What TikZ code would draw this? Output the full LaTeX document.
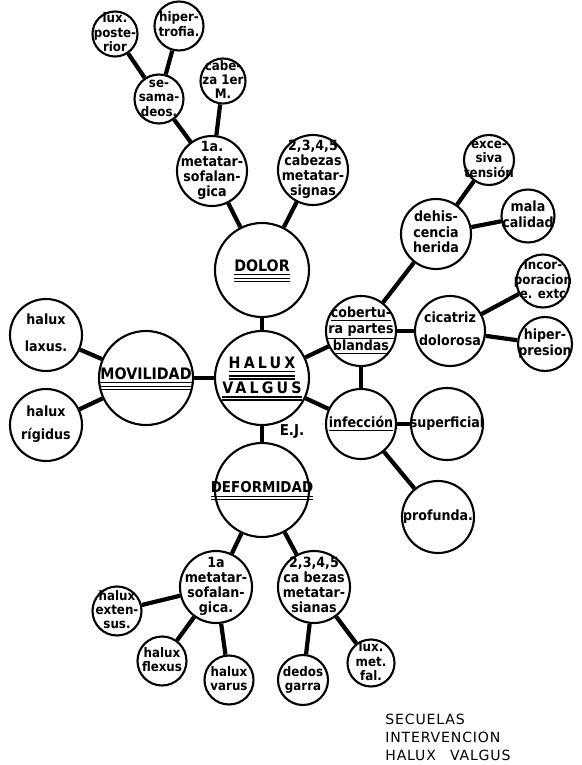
\documentclass[tikz,border=0pt]{standalone}
\usepackage{fontspec}
\setmainfont{DejaVu Sans Condensed}
\newfontfamily\spacedfont[LetterSpace=20]{DejaVu Sans Condensed}
\newfontfamily\titlefont[LetterSpace=6]{DejaVu Sans}
\usetikzlibrary{positioning}
% text set inside a circle without changing its size
\newcommand{\intext}[1]{\smash{\makebox[0pt]{\raisebox{-0.25em}{\begin{tabular}{@{}c@{}}#1\end{tabular}}}}}
% text with a double bar under it
\newcommand{\dbar}[1]{\vtop{\hbox{#1}\kern1.4pt\hrule height0.8pt\kern0.9pt\hrule height0.8pt}}

\begin{document}
\begin{tikzpicture}[node distance=1cm, on grid, every node/.style={align=center, inner sep=0pt}, bigc/.style={draw, circle, line width=1.2pt, minimum size=1.88cm, font=\bfseries\fontsize{9}{11}\selectfont}, midc/.style={draw, circle, line width=1.2pt, minimum size=1.4cm, font=\bfseries\fontsize{8}{8.6}\selectfont}, smallc/.style={draw, circle, line width=1.2pt, minimum size=0.98cm, font=\bfseries\fontsize{7.5}{8}\selectfont}, link/.style={line width=2.4pt}]
\useasboundingbox (0,0) rectangle (11.64,-15.3);
\node[bigc] (hv) at (5.24,-7.56) {\intext{\dbar{\underline{\spacedfont\bfseries HALUX}}\\[3pt]\dbar{\spacedfont\bfseries VALGUS}}};
\node[bigc, above=2.16cm of hv] (dolor) {\intext{\dbar{\underline{DOLOR}}}};
\node[bigc, left=2.32cm of hv] (movil) {\intext{\dbar{\underline{MOVILIDAD}}}};
\node[bigc, below=2.24cm of hv, font=\bfseries\fontsize{8.5}{10}\selectfont] (deform) {\intext{\dbar{DEFORMIDAD}}};
\node[midc, above right=0.94cm and 1.98cm of hv] (cobert) {\intext{\underline{cobertu-}\\\underline{ra partes}\\\underline{blandas}}};
\node[midc, below right=0.92cm and 1.98cm of hv] (infecc) {\intext{\underline{infección}}};
\node[below right=1.08cm and 0.6cm of hv, font=\bfseries\fontsize{8.5}{9}\selectfont] (ej) {E.J.};

\node[midc, above left=1.98cm and 1.0cm of dolor] (meta1a) {\intext{1a.\\metatar-\\sofalan-\\gica}};
\node[midc, above right=2.0cm and 1.02cm of dolor] (cabez) {\intext{2,3,4,5\\cabezas\\metatar-\\signas}};
\node[smallc, above left=1.44cm and 1.06cm of meta1a] (sesam) {\intext{se-\\sama-\\deos.}};
\node[smallc, above right=1.8cm and 0.22cm of meta1a, minimum size=0.9cm] (cab1er) {\intext{cabe-\\za 1er\\M.}};
\node[smallc, above left=1.3cm and 0.88cm of sesam, minimum size=0.9cm] (luxpost) {\intext{lux.\\poste-\\rior}};
\node[smallc, above right=1.46cm and 0.4cm of sesam] (hipert) {\intext{hiper-\\trofia.}};

\node[midc, above left=0.86cm and 2.0cm of movil, minimum size=1.44cm] (laxus) {\intext{halux\\[7pt]laxus.}};
\node[midc, below left=0.94cm and 2.0cm of movil, minimum size=1.44cm] (rigid) {\intext{halux\\[4pt]rígidus}};

\node[midc, above right=1.94cm and 1.5cm of cobert] (dehis) {\intext{dehis-\\cencia\\herida}};
\node[smallc, above right=1.48cm and 1.06cm of dehis, minimum size=1.0cm] (exces) {\intext{exce-\\siva\\tensión}};
\node[smallc, above right=0.36cm and 1.84cm of dehis, minimum size=1.06cm, font=\bfseries\fontsize{8}{9}\selectfont] (mala) {\intext{mala\\calidad}};
\node[midc, right=1.78cm of cobert] (cicat) {\intext{cicatriz\\[4pt]dolorosa}};
\node[smallc, above right=1.0cm and 1.86cm of cicat, minimum size=1.06cm] (incorp) {\intext{incor-\\poracion\\e. extc}};
\node[smallc, below right=0.26cm and 1.9cm of cicat, minimum size=1.08cm, font=\bfseries\fontsize{8}{9}\selectfont] (hiperp) {\intext{hiper-\\presion}};

\node[midc, right=1.72cm of infecc, minimum size=1.44cm] (superf) {\intext{superficial}};
\node[midc, below right=1.86cm and 1.54cm of infecc, minimum size=1.44cm] (profun) {\intext{profunda.}};

\node[midc, below left=1.94cm and 0.92cm of deform, minimum size=1.44cm] (meta1b) {\intext{1a\\metatar-\\sofalan-\\gica.}};
\node[midc, below right=1.94cm and 1.04cm of deform, minimum size=1.44cm] (cabez2) {\intext{2,3,4,5\\ca bezas\\metatar-\\sianas}};
\node[smallc, below left=0.48cm and 1.98cm of meta1b] (extens) {\intext{halux\\exten-\\sus.}};
\node[smallc, below left=1.48cm and 1.08cm of meta1b] (flexus) {\intext{halux\\flexus}};
\node[smallc, below right=1.86cm and 0.26cm of meta1b] (varus) {\intext{halux\\varus}};
\node[smallc, below left=1.86cm and 0.22cm of cabez2, minimum size=1.0cm] (garra) {\intext{dedos\\garra}};
\node[smallc, below right=1.52cm and 1.14cm of cabez2, minimum size=0.94cm] (luxmet) {\intext{lux.\\met.\\fal.}};

\node[anchor=north west, align=left, font=\titlefont\fontsize{8}{10.2}\selectfont] (titulo) at (7.7,-14.28) {SECUELAS\\INTERVENCION\\HALUX\quad VALGUS};

\draw[link] (hv) -- (dolor);
\draw[link] (hv) -- (movil);
\draw[link] (hv) -- (deform);
\draw[link] (hv) -- (cobert);
\draw[link] (hv) -- (infecc);

\draw[link] (dolor) -- (meta1a);
\draw[link] (dolor) -- (cabez);
\draw[link] (meta1a) -- (sesam);
\draw[link] (meta1a) -- (cab1er);
\draw[link] (sesam) -- (luxpost);
\draw[link] (sesam) -- (hipert);

\draw[link] (movil) -- (laxus);
\draw[link] (movil) -- (rigid);

\draw[link] (cobert) -- (dehis);
\draw[link] (cobert) -- (cicat);
\draw[link] (cobert) -- (infecc);
\draw[link] (dehis) -- (exces);
\draw[link] (dehis) -- (mala);
\draw[link] (cicat) -- (incorp);
\draw[link] (cicat) -- (hiperp);

\draw[link] (infecc) -- (superf);
\draw[link] (infecc) -- (profun);

\draw[link] (deform) -- (meta1b);
\draw[link] (deform) -- (cabez2);
\draw[link] (meta1b) -- (extens);
\draw[link] (meta1b) -- (flexus);
\draw[link] (meta1b) -- (varus);
\draw[link] (cabez2) -- (garra);
\draw[link] (cabez2) -- (luxmet);
\end{tikzpicture}
\end{document}
